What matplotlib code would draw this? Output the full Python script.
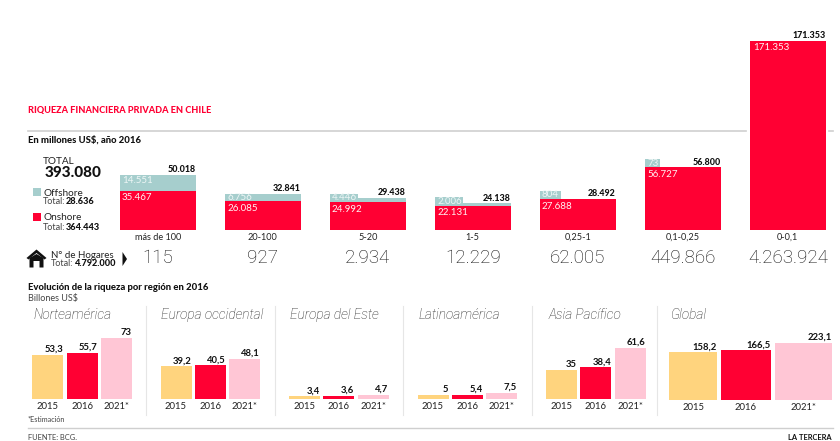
import matplotlib
matplotlib.use('Agg')
import matplotlib.pyplot as plt
from matplotlib.patches import Rectangle, Polygon

W = 840; H = 441
RED = '#FF0033'; TEAL = '#A6CECD'; YELLOW = '#FFD47E'; PINK = '#FFC6D5'
INK = '#222222'; GREY = '#CFCFCF'
plt.rcParams['font.family'] = ['Lato', 'DejaVu Sans']
LIGHT = 'Roboto'

# top chart
brackets = ['más de 100', '20-100', '5-20', '1-5', '0,25-1', '0,1-0,25', '0-0,1']
onshore = [35467, 26085, 24992, 22131, 27688, 56727, 171353]
offshore = [14551, 6756, 4446, 2006, 804, 73, 0]
totals = [50018, 32841, 29438, 24138, 28492, 56800, 171353]
hogares = ['115', '927', '2.934', '12.229', '62.005', '449.866', '4.263.924']

# bottom panels
regions = ['Norteamérica', 'Europa occidental', 'Europa del Este', 'Latinoamérica', 'Asia Pacífico', 'Global']
years = ['2015', '2016', '2021*']
norteamerica = [53.3, 55.7, 73]
europa_occ = [39.2, 40.5, 48.1]
europa_este = [3.4, 3.6, 4.7]
latinoamerica = [5, 5.4, 7.5]
asia_pacifico = [35, 38.4, 61.6]
global_labels = [158.2, 166.5, 223.1]
# the original draws the first two Global bars taller than their printed values
global_drawn = [187, 194, 223.1]


def fmt(v):
	return str(v).replace('.', ',')

def dots(v):
	return f'{v:,}'.replace(',', '.')

def axes_px(left, top, right, bottom):
	ax = fig.add_axes([left / W, 1 - bottom / H, (right - left) / W, (bottom - top) / H])
	ax.axis('off')
	ax.patch.set_alpha(0)
	return ax

def label_px(ax, x, y, s, dx, dy, **kw):
	# offset given in image pixels, dpi is 100
	ax.annotate(s, (x, y), xytext=(dx * 0.72, dy * 0.72), textcoords='offset points', **kw)


fig = plt.figure(figsize=(8.4, 4.41), dpi=100)

# overlay in image pixels for rules, headings and the legend
ov = axes_px(0, 0, W, H)
ov.set_xlim(0, W); ov.set_ylim(H, 0)

def t(x, y, s, size=7, weight='normal', color=INK, ha='left', style='normal', family=None):
	ov.text(x, y, s, fontsize=size, fontweight=weight, color=color, ha=ha, va='center', fontstyle=style, family=family)

ov.plot([28, 746], [131, 131], color=GREY, lw=1.2)
ov.plot([829, 833], [131, 131], color=GREY, lw=1.2)
ov.plot([28, 833], [428, 428], color=GREY, lw=1.0)
for x in [146, 274.5, 403, 532, 656.5]:
	ov.plot([x, x], [306, 415], color='#E6E6E6', lw=0.8)

t(28, 110, 'RIQUEZA FINANCIERA PRIVADA EN CHILE', 6.6, 'black', RED)
t(28, 140, 'En millones US$, año 2016', 6.8, 'black', '#111111')
t(43, 161, 'TOTAL', 7.2)
t(45, 173, '393.080', 11, 'black', '#111111')
ov.add_patch(Rectangle((32.7, 188.3), 8, 8, color=TEAL, lw=0))
t(43, 193, 'Offshore', 7.2)
t(43, 202, 'Total:', 6.5, color='#444444')
t(65.5, 202, '28.636', 6.6, 'black', '#111111')
ov.add_patch(Rectangle((32.7, 213), 8, 8, color=RED, lw=0))
t(43, 218, 'Onshore', 7.2)
t(43, 227, 'Total:', 6.5, color='#444444')
t(65.5, 227, '364.443', 6.6, 'black', '#111111')

# house icon and arrow
ov.add_patch(Polygon([[26.5, 258], [36.5, 249.5], [46.5, 258], [44.5, 259.5], [36.5, 253], [28.5, 259.5]], color='#111111', lw=0))
ov.add_patch(Polygon([[29.5, 258], [36.5, 254], [43.5, 258], [43.5, 267.5], [39.5, 267.5], [39.5, 261], [33.5, 261], [33.5, 267.5], [29.5, 267.5]], color='#111111', lw=0))
ov.add_patch(Polygon([[122.5, 252], [127, 259], [122.5, 266]], color='#111111', lw=0))
t(51, 255, 'N° de Hogares', 7)
t(51, 264, 'Total:', 6.5, color='#444444')
t(75, 264, '4.792.000', 6.6, 'black', '#111111')

# top bars, 1 unit on x is one bracket (105 px)
top = axes_px(105.25, 41, 840.25, 230)
top.set_xlim(-0.5, 6.5); top.set_ylim(0, 171353)
xs = list(range(len(brackets)))
bar_w = 75.5 / 105
top.bar(xs, onshore, width=bar_w, color=RED, lw=0)
top.bar(xs, offshore, width=bar_w, bottom=onshore, color=TEAL, lw=0)
for i in xs:
	left = i - bar_w / 2; right = i + bar_w / 2
	label_px(top, left, onshore[i], dots(onshore[i]), 2 if i < 6 else 3, -7, color='#FFF3F3', fontsize=7, va='center', annotation_clip=False)
	label_px(top, right, totals[i], dots(totals[i]), 0, 5, color='#111111', fontsize=6.4, fontweight='black', ha='right', va='center', annotation_clip=False)
	label_px(top, i, 0, brackets[i], 0, -7.5, color=INK, fontsize=6.6, ha='center', va='center', annotation_clip=False)
	label_px(top, i, 0, hogares[i], 0, -28, color='#111111', fontsize=13.5, family=LIGHT, fontweight='light', ha='center', va='center', annotation_clip=False)

# small offshore values sit on a tab above the stack
tab_w = [0, 0, 28, 28, 21, 15, 0]
tab_h = [0, 0, 3.5, 6.5, 8, 8, 0]
off_dy = [-6, -4, 0, 2, 4, 4, 0]
for i in xs[:6]:
	left = i - bar_w / 2
	if tab_w[i]:
		ov.add_patch(Rectangle((105.25 + (left + 0.5) * 105, 230 - totals[i] * 189 / 171353 - tab_h[i]), tab_w[i], tab_h[i], color=TEAL, lw=0))
	label_px(top, left, totals[i], dots(offshore[i]), 2, off_dy[i], color='#EEF6F6', fontsize=7, va='center', annotation_clip=False, zorder=5)

# bottom panels
panel_left = [32.3, 160.5, 289, 417.5, 546]
panel_vals = [norteamerica, europa_occ, europa_este, latinoamerica, asia_pacifico]
title_x = [33, 161, 289.5, 418, 548, 670]
SP = 34.25; BW = 31

def draw_panel(lefts, widths, vals, labels, base, ymax):
	ax = axes_px(0, base - 70, W, base)
	ax.set_xlim(0, W); ax.set_ylim(0, ymax)
	colors = [YELLOW, RED, PINK]
	ax.bar(lefts, vals, width=widths, align='edge', color=colors, lw=0)
	for j in range(3):
		label_px(ax, lefts[j] + widths[j], vals[j], fmt(labels[j]), 0, 5.5, color='#111111', fontsize=6.8, fontweight='bold', ha='right', va='center', annotation_clip=False)
		label_px(ax, lefts[j] + widths[j] / 2, 0, years[j], 0, -7.5, color=INK, fontsize=6.8, ha='center', va='center', annotation_clip=False)

for x0, vals in zip(panel_left, panel_vals):
	draw_panel([x0, x0 + SP, x0 + 2 * SP], [BW, BW, BW], vals, vals, 399, 70 / 0.83)
draw_panel([669.3, 721, 775], [47.7, 50, 57], global_drawn, global_labels, 400, 223.1 * 70 / 57)

for x, name in zip(title_x, regions):
	t(x, 315, name, 9.8, 'light', '#222222', style='italic', family=LIGHT)

t(28, 287, 'Evolución de la riqueza por región en 2016', 6.8, 'black', '#111111')
t(28, 298, 'Billones US$', 6.5, color='#444444')
t(28, 420, '*Estimación', 5.2, color='#444444')
t(28, 437, 'FUENTE: BCG.', 5.4, color='#444444')
t(832, 437, 'LA TERCERA', 5.4, 'bold', '#111111', ha='right')

fig.savefig('out.png', dpi=100)
